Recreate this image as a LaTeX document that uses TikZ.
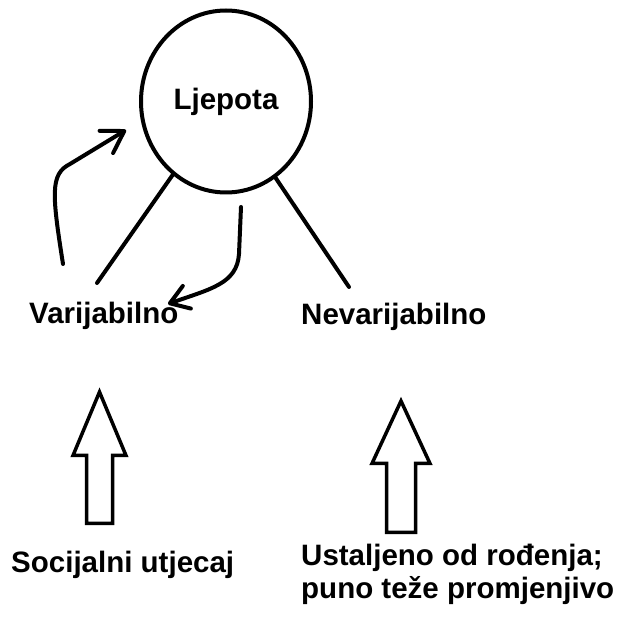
\documentclass[tikz,border=0pt]{standalone}
\usepackage{fontspec}
\setmainfont{Liberation Sans}
\usetikzlibrary{shapes.geometric,arrows.meta}
\tikzset{
  lbl/.style={font=\bfseries\fontsize{29.5}{33}\selectfont, inner sep=0pt},
  pen/.style={line width=4pt, line cap=round},
  bararrow/.style={line width=3.5pt, line join=miter}
}

\begin{document}
\begin{tikzpicture}[x=1pt,y=1pt]
  \useasboundingbox (0,0) rectangle (617,619);
  % beauty and its two sides
  \node[lbl, draw, ellipse, line width=4pt, minimum width=170pt, minimum height=182pt] (lj) at (226,517.5) {Ljepota};
  \node[lbl, anchor=base west] (var) at (29,295) {Varijabilno};
  \node[lbl, anchor=base west] (nev) at (301,294) {Nevarijabilno};
  \node[lbl, anchor=base west] (soc) at (11,46) {Socijalni utjecaj};
  \node[lbl, anchor=north west, align=left] (ust) at (301,75) {Ustaljeno od rođenja;\\puno teže promjenjivo};

  \coordinate (varTop) at (97,336);
  \coordinate (nevTop) at (349,332);
  \coordinate (upFrom) at (63,355);
  \coordinate (upTo) at (126,489);
  \coordinate (downFrom) at (241,412);
  \coordinate (downTo) at (168,315);

  \draw[pen] (lj.234) -- (varTop);
  \draw[pen] (lj.303) -- (nevTop);
  \draw[pen, -{Straight Barb[length=21pt,width=26pt,round]}] (upFrom) .. controls (52,425) and (50,445) .. (70,455) -- (upTo);
  \draw[pen, -{Straight Barb[length=18pt,width=24pt,round]}] (downFrom) -- (239,365) .. controls (237,335) and (210,330) .. (downTo);

  % block arrows
  \draw[bararrow] (99.5,227) -- (126,163.5) -- (112.5,163.5) -- (112.5,95.5) -- (86.5,95.5) -- (86.5,163.5) -- (73,163.5) -- cycle;
  \draw[bararrow] (401,218) -- (430,155.5) -- (415.5,155.5) -- (415.5,86.5) -- (386.5,86.5) -- (386.5,155.5) -- (372,155.5) -- cycle;
\end{tikzpicture}
\end{document}
